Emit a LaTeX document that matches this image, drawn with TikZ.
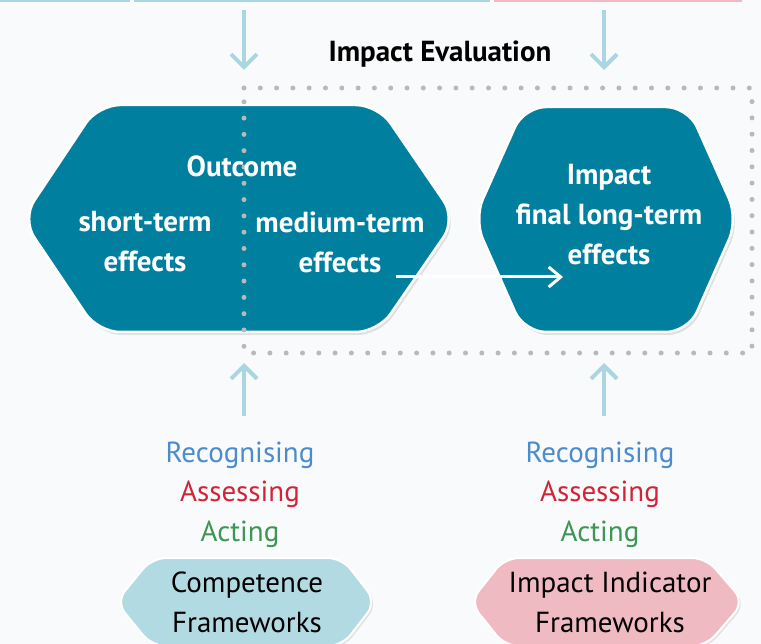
\documentclass[tikz,border=0pt]{standalone}
\usepackage{fontspec}
\setmainfont{PT Sans}
\usetikzlibrary{arrows.meta,shadows}
\definecolor{teal}{RGB}{0,127,159}
\definecolor{arrowblue}{RGB}{170,214,226}
\definecolor{textblue}{RGB}{74,140,205}
\definecolor{textred}{RGB}{210,35,55}
\definecolor{textgreen}{RGB}{60,150,85}
\definecolor{lightfill}{RGB}{178,218,226}
\definecolor{pinkfill}{RGB}{240,186,194}
\definecolor{dotgrey}{RGB}{185,185,185}
\definecolor{bg}{RGB}{249,250,251}
\tikzset{
  hexbox/.style={fill=teal, draw=white, line width=2.5pt, rounded corners=22pt,
    drop shadow={opacity=0.22, shadow xshift=2pt, shadow yshift=-3pt}},
  smallhex/.style={draw=white, line width=2pt, rounded corners=14pt,
    drop shadow={opacity=0.18, shadow xshift=2pt, shadow yshift=-2pt}},
  hextext/.style={text=white, align=center, font=\bfseries\fontsize{29}{40}\selectfont, inner sep=0pt},
  plaintext/.style={align=center, font=\fontsize{29}{40}\selectfont, inner sep=0pt},
  dotline/.style={dotgrey, line width=5pt, line cap=round, dash pattern=on 0pt off 16.3pt},
  flowarrow/.style={arrowblue, line width=4pt, -{Straight Barb[length=13pt,width=26pt]}},
  whitearrow/.style={white, line width=3pt, -{Straight Barb[length=12pt,width=20pt]}}
}
\begin{document}
\begin{tikzpicture}[x=1pt,y=-1pt]
\fill[bg] (0,0) rectangle (761,644);
\useasboundingbox (0,0) rectangle (761,644);
% top strips
\fill[arrowblue] (0,0) rectangle (130,2.5);
\fill[arrowblue] (134,0) rectangle (490,2.5);
\fill[pinkfill] (494,0) rectangle (742,2.5);

% hexagons
\path[hexbox] (98,105) -- (378,105) -- (456,219) -- (378,332) -- (98,332) -- (22,219) -- cycle;
\path[hexbox] (524,107) -- (688,107) -- (738,219) -- (688,332) -- (524,332) -- (474,219) -- cycle;
\path[smallhex, fill=lightfill] (152,558) -- (342,558) -- (376,602) -- (342,646) -- (152,646) -- (116,602) -- cycle;
\path[smallhex, fill=pinkfill] (505,558) -- (706,558) -- (744,602) -- (706,646) -- (505,646) -- (470,602) -- cycle;

% dotted evaluation frame
\draw[dotline] (244,88) -- (752,88) -- (752,353) -- (244,353) -- cycle;

% texts
\node[font=\bfseries\fontsize{29}{30}\selectfont, inner sep=0pt] (eval) at (440,54) {Impact Evaluation};
\node[hextext] (outcome) at (242,166) {Outcome};
\node[hextext] (short) at (145,242) {short-term\\effects};
\node[hextext] (medium) at (340,242) {medium-term\\effects};
\node[hextext] (impact) at (609,215) {Impact\\final long-term\\effects};

\node[plaintext, text=textblue] (rec1) at (240,455) {Recognising};
\node[plaintext, text=textred] (ass1) at (240,494) {Assessing};
\node[plaintext, text=textgreen] (act1) at (240,534) {Acting};
\node[plaintext, text=textblue] (rec2) at (600,455) {Recognising};
\node[plaintext, text=textred] (ass2) at (600,494) {Assessing};
\node[plaintext, text=textgreen] (act2) at (600,534) {Acting};

\node[plaintext, text=black] (comp) at (247,602) {Competence\\Frameworks};
\node[plaintext, text=black] (indic) at (610,602) {Impact Indicator\\Frameworks};

% arrows
\coordinate (t1s) at (244,10);
\coordinate (t1e) at (244,70);
\coordinate (t2s) at (604,10);
\coordinate (t2e) at (604,70);
\coordinate (b1s) at (244,416);
\coordinate (b1e) at (244,363);
\coordinate (b2s) at (604,416);
\coordinate (b2e) at (604,363);
\draw[flowarrow] (t1s) -- (t1e);
\draw[flowarrow] (t2s) -- (t2e);
\draw[flowarrow] (b1s) -- (b1e);
\draw[flowarrow] (b2s) -- (b2e);

\coordinate (ws) at (396,277);
\coordinate (we) at (563,277);
\draw[whitearrow] (ws) -- (we);
\end{tikzpicture}
\end{document}
